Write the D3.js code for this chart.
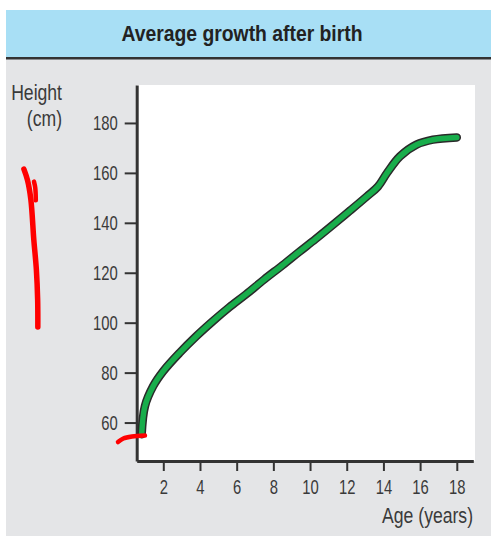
<!DOCTYPE html>
<html>
<head>
<meta charset="utf-8">
<script src="https://cdn.jsdelivr.net/npm/d3@7"></script>
<style>
  html, body { margin: 0; padding: 0; background: #ffffff; }
  svg { display: block; }
  text { font-family: "Liberation Sans", Arial, sans-serif; }
</style>
</head>
<body>
<svg id="chart" width="491" height="539"></svg>
<script>
// ---- data ----
const title = "Average growth after birth";
const yLabelLines = ["Height", "(cm)"];
const xLabel = "Age (years)";
const xTicks = [2, 4, 6, 8, 10, 12, 14, 16, 18];
const yTicks = [60, 80, 100, 120, 140, 160, 180];
const ages    = [0.82, 1.0, 1.45, 2.0, 2.9, 3.8, 4.7, 5.6, 6.5, 7.5, 8.5, 9.4, 10.3, 11.3, 12.2, 13.1, 13.7, 14.2, 14.9, 15.8, 16.7, 18.0];
const heights = [55.3, 66.6, 74.6, 80.6, 88.0, 94.6, 100.6, 106.2, 111.3, 117.3, 123.0, 128.3, 133.5, 139.5, 145.0, 150.6, 154.5, 160.0, 166.6, 171.3, 173.3, 174.2];
// hand-drawn red annotations (in age / cm units)
const markAges1    = [-5.60, -5.40, -5.22, -5.06, -4.92, -4.85, -4.84];
const markHeights1 = [161.5, 157.0, 149.3, 133.3, 121.3, 109.3, 98.3];
const markAges2    = [-5.05, -4.98, -4.95];
const markHeights2 = [156.5, 154.0, 149.0];
const markAges3    = [-0.47, -0.18, 0.29, 1.0];
const markHeights3 = [52.2, 53.6, 54.4, 54.8];

const svg = d3.select("#chart");
const f = 0.76;  // horizontal condensing of tick text
const fl = 0.8;  // horizontal condensing of axis titles

// panel background
svg.append("rect").attr("x", 6).attr("y", 10).attr("width", 485).attr("height", 526).attr("fill", "#e4e5e7");
svg.append("rect").attr("x", 6).attr("y", 10).attr("width", 485).attr("height", 47).attr("fill", "#a8dff5");
svg.append("rect").attr("x", 6).attr("y", 57).attr("width", 485).attr("height", 2).attr("fill", "#333");
svg.append("rect").attr("x", 6).attr("y", 59).attr("width", 485).attr("height", 1).attr("fill", "#8a8c8f");

svg.append("text").attr("transform", "translate(242,41) scale(0.9,1)").attr("text-anchor", "middle")
  .attr("font-size", 21.5).attr("font-weight", "bold").attr("fill", "#222")
  .text(title);

// scales
const x = d3.scaleLinear().domain([0.55, 18.9]).range([136.7, 473.3]);
const y = d3.scaleLinear().domain([44.6, 195.2]).range([461, 85]);

// plot area
svg.append("rect").attr("x", x(0.55)).attr("y", 85).attr("width", 475 - x(0.55)).attr("height", 461 - 85).attr("fill", "#ffffff");

// axes
const axisColor = "#333";
const xAxis = svg.append("g").attr("transform", "translate(0,461)")
  .call(d3.axisBottom(x).tickValues(xTicks).tickSize(10).tickSizeOuter(0).tickPadding(9));
const yAxis = svg.append("g").attr("transform", `translate(${x(0.55)},0)`)
  .call(d3.axisLeft(y).tickValues(yTicks).tickSize(12).tickSizeOuter(0).tickPadding(6));
[xAxis, yAxis].forEach(g => {
  g.attr("font-family", null);
  g.select(".domain").attr("stroke", axisColor).attr("stroke-width", 3);
  g.selectAll(".tick line").attr("stroke", axisColor).attr("stroke-width", 2);
  g.selectAll(".tick text").attr("font-size", 19.5).attr("fill", "#3a3a3a")
    .style("font-family", '"Liberation Sans", Arial, sans-serif');
});
xAxis.selectAll(".tick text").attr("dy", "0.71em").attr("transform", `scale(${f},1)`);
yAxis.selectAll(".tick text").attr("dy", "0.35em").attr("x", 0).attr("transform", `translate(-19,0) scale(${f},1)`);

// axis labels
svg.append("text").attr("transform", `translate(62,100) scale(${fl},1)`).attr("text-anchor", "end")
  .attr("font-size", 22).attr("fill", "#3a3a3a").text(yLabelLines[0]);
svg.append("text").attr("transform", `translate(62,126) scale(${fl},1)`).attr("text-anchor", "end")
  .attr("font-size", 22).attr("fill", "#3a3a3a").text(yLabelLines[1]);
svg.append("text").attr("transform", `translate(473,523) scale(${fl},1)`).attr("text-anchor", "end")
  .attr("font-size", 22).attr("fill", "#3a3a3a").text(xLabel);

// growth curve
const pts = ages.map((a, i) => [a, heights[i]]);
const line = d3.line().x(d => x(d[0])).y(d => y(d[1])).curve(d3.curveCatmullRom.alpha(0.5));
svg.append("path").datum(pts).attr("d", line).attr("fill", "none")
  .attr("stroke", "#2a2a2a").attr("stroke-width", 8.5).attr("stroke-linecap", "round").attr("stroke-linejoin", "round");
svg.append("path").datum(pts).attr("d", line).attr("fill", "none")
  .attr("stroke", "#18ad4b").attr("stroke-width", 5.5).attr("stroke-linecap", "round").attr("stroke-linejoin", "round");

// red annotations
const mark = (as, hs, w) => {
  svg.append("path").datum(as.map((a, i) => [a, hs[i]])).attr("d", line).attr("fill", "none")
    .attr("stroke", "#f00").attr("stroke-width", w).attr("stroke-linecap", "round").attr("stroke-linejoin", "round");
};
mark(markAges1, markHeights1, 5.5);
mark(markAges2, markHeights2, 4.5);
mark(markAges3, markHeights3, 4.5);
</script>
</body>
</html>
